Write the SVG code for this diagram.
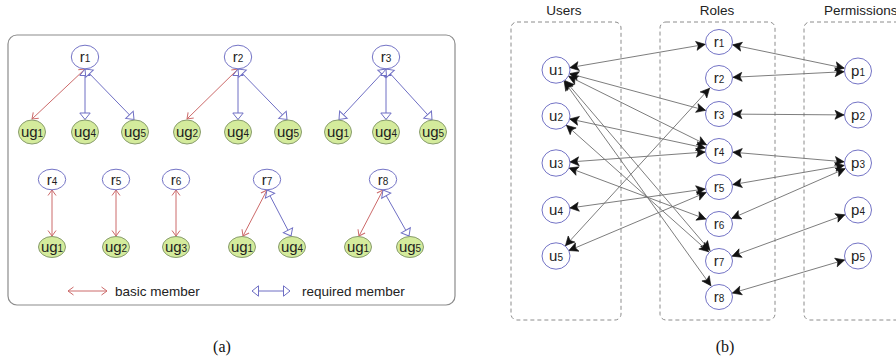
<svg xmlns="http://www.w3.org/2000/svg" width="896" height="363" viewBox="0 0 896 363">
<style>
.bg{fill:#fff}
.frame{fill:none;stroke:#8c8c8c;stroke-width:1.2}
.dbox{fill:none;stroke:#8c8c8c;stroke-width:1;stroke-dasharray:4 3}
.rn{fill:#fff;stroke:#7474c6;stroke-width:1}
.ug{fill:#d4eb9c;stroke:#889c6c;stroke-width:1}
.nt{font-family:"Liberation Sans",Arial,sans-serif;font-size:15px;fill:#1e1e1e;text-anchor:middle}
.sub{font-size:10px}
.red{stroke:#cc6a6a;stroke-width:1;fill:none;marker-start:url(#vArr);marker-end:url(#vArr)}
.blue{stroke:#6f6fc4;stroke-width:1;fill:none;marker-start:url(#tArr);marker-end:url(#tArr)}
.gl{stroke:#6e6e6e;stroke-width:0.9;fill:none;marker-start:url(#bArr);marker-end:url(#bArr)}
.hd{font-family:"Liberation Sans",Arial,sans-serif;font-size:13.5px;fill:#222}
.cap{font-family:"Liberation Serif","Times New Roman",serif;font-size:16px;fill:#111;text-anchor:middle}
</style>
<defs>
<marker id="vArr" viewBox="-8 -6 10 12" markerWidth="10" markerHeight="12" refX="0" refY="0" orient="auto-start-reverse" markerUnits="userSpaceOnUse" overflow="visible"><path d="M-5.5,-4 L0,0 L-5.5,4" fill="none" stroke="#cc6a6a" stroke-width="1"/></marker>
<marker id="tArr" viewBox="-8 -6 10 12" markerWidth="10" markerHeight="12" refX="0" refY="0" orient="auto-start-reverse" markerUnits="userSpaceOnUse" overflow="visible"><path d="M-6.5,-5.2 L0,0 L-6.5,5.2 z" fill="#fff" stroke="#6f6fc4" stroke-width="1"/></marker>
<marker id="bArr" viewBox="-26 -6 28 12" markerWidth="28" markerHeight="12" refX="0" refY="0" orient="auto-start-reverse" markerUnits="userSpaceOnUse" overflow="visible"><path d="M-14,0 L-23,-4.5 L-21,0 L-23,4.5 z" fill="#111" stroke="#111" stroke-width="0.6" stroke-linejoin="round"/></marker>
</defs>
<rect class="bg" x="0" y="0" width="896" height="363"/>

<!-- Panel (a) -->
<rect class="frame" x="8" y="35" width="447" height="270" rx="9"/>

<g id="connectors-a">
<line class="red" x1="85" y1="69" x2="32" y2="119"/>
<line class="blue" x1="85" y1="69" x2="85" y2="119.5"/>
<line class="blue" x1="85" y1="69" x2="134" y2="119.5"/>
<line class="red" x1="238" y1="69" x2="187" y2="119"/>
<line class="blue" x1="238" y1="69" x2="238" y2="119.5"/>
<line class="blue" x1="238" y1="69" x2="287" y2="119.5"/>
<line class="blue" x1="386" y1="69" x2="339" y2="119.5"/>
<line class="blue" x1="386" y1="69" x2="386" y2="119.5"/>
<line class="blue" x1="386" y1="69" x2="432" y2="119.5"/>
<line class="red" x1="52" y1="190" x2="52" y2="236"/>
<line class="red" x1="116" y1="190" x2="116" y2="236"/>
<line class="red" x1="176" y1="190" x2="176" y2="236"/>
<line class="red" x1="267" y1="190" x2="243" y2="236"/>
<line class="blue" x1="267" y1="190" x2="291" y2="236"/>
<line class="red" x1="383" y1="190" x2="359" y2="236"/>
<line class="blue" x1="383" y1="190" x2="409" y2="236"/>
</g>

<g id="a-r1"><ellipse class="rn" cx="85" cy="57" rx="13.7" ry="11.8"/><text class="nt" x="85" y="62">r<tspan class="sub">1</tspan></text></g>
<g id="a-r2"><ellipse class="rn" cx="238" cy="57" rx="13.7" ry="11.8"/><text class="nt" x="238" y="62">r<tspan class="sub">2</tspan></text></g>
<g id="a-r3"><ellipse class="rn" cx="386" cy="57" rx="13.7" ry="11.8"/><text class="nt" x="386" y="62">r<tspan class="sub">3</tspan></text></g>
<g id="a-r1-ug1"><ellipse class="ug" cx="32" cy="132" rx="13.5" ry="12"/><text class="nt" x="32" y="136.5">ug<tspan class="sub">1</tspan></text></g>
<g id="a-r1-ug4"><ellipse class="ug" cx="85" cy="132" rx="13.5" ry="12"/><text class="nt" x="85" y="136.5">ug<tspan class="sub">4</tspan></text></g>
<g id="a-r1-ug5"><ellipse class="ug" cx="135" cy="132" rx="13.5" ry="12"/><text class="nt" x="135" y="136.5">ug<tspan class="sub">5</tspan></text></g>
<g id="a-r2-ug2"><ellipse class="ug" cx="187" cy="132" rx="13.5" ry="12"/><text class="nt" x="187" y="136.5">ug<tspan class="sub">2</tspan></text></g>
<g id="a-r2-ug4"><ellipse class="ug" cx="238" cy="132" rx="13.5" ry="12"/><text class="nt" x="238" y="136.5">ug<tspan class="sub">4</tspan></text></g>
<g id="a-r2-ug5"><ellipse class="ug" cx="288" cy="132" rx="13.5" ry="12"/><text class="nt" x="288" y="136.5">ug<tspan class="sub">5</tspan></text></g>
<g id="a-r3-ug1"><ellipse class="ug" cx="338" cy="132" rx="13.5" ry="12"/><text class="nt" x="338" y="136.5">ug<tspan class="sub">1</tspan></text></g>
<g id="a-r3-ug4"><ellipse class="ug" cx="386" cy="132" rx="13.5" ry="12"/><text class="nt" x="386" y="136.5">ug<tspan class="sub">4</tspan></text></g>
<g id="a-r3-ug5"><ellipse class="ug" cx="433" cy="132" rx="13.5" ry="12"/><text class="nt" x="433" y="136.5">ug<tspan class="sub">5</tspan></text></g>

<g id="a-r4"><ellipse class="rn" cx="52" cy="179.5" rx="13.7" ry="10.3"/><text class="nt" x="52" y="184.5">r<tspan class="sub">4</tspan></text></g>
<g id="a-r5"><ellipse class="rn" cx="116" cy="179.5" rx="13.7" ry="10.3"/><text class="nt" x="116" y="184.5">r<tspan class="sub">5</tspan></text></g>
<g id="a-r6"><ellipse class="rn" cx="176" cy="179.5" rx="13.7" ry="10.3"/><text class="nt" x="176" y="184.5">r<tspan class="sub">6</tspan></text></g>
<g id="a-r7"><ellipse class="rn" cx="267" cy="179.5" rx="13.7" ry="10.3"/><text class="nt" x="267" y="184.5">r<tspan class="sub">7</tspan></text></g>
<g id="a-r8"><ellipse class="rn" cx="383" cy="179.5" rx="13.7" ry="10.3"/><text class="nt" x="383" y="184.5">r<tspan class="sub">8</tspan></text></g>
<g id="a-r4-ug1"><ellipse class="ug" cx="52" cy="247" rx="13.5" ry="10.5"/><text class="nt" x="52" y="251.5">ug<tspan class="sub">1</tspan></text></g>
<g id="a-r5-ug2"><ellipse class="ug" cx="116" cy="247" rx="13.5" ry="10.5"/><text class="nt" x="116" y="251.5">ug<tspan class="sub">2</tspan></text></g>
<g id="a-r6-ug3"><ellipse class="ug" cx="176" cy="247" rx="13.5" ry="10.5"/><text class="nt" x="176" y="251.5">ug<tspan class="sub">3</tspan></text></g>
<g id="a-r7-ug1"><ellipse class="ug" cx="242" cy="247" rx="13.5" ry="10.5"/><text class="nt" x="242" y="251.5">ug<tspan class="sub">1</tspan></text></g>
<g id="a-r7-ug4"><ellipse class="ug" cx="292" cy="247" rx="13.5" ry="10.5"/><text class="nt" x="292" y="251.5">ug<tspan class="sub">4</tspan></text></g>
<g id="a-r8-ug1"><ellipse class="ug" cx="358" cy="247" rx="13.5" ry="10.5"/><text class="nt" x="358" y="251.5">ug<tspan class="sub">1</tspan></text></g>
<g id="a-r8-ug5"><ellipse class="ug" cx="410" cy="247" rx="13.5" ry="10.5"/><text class="nt" x="410" y="251.5">ug<tspan class="sub">5</tspan></text></g>

<g id="legend">
<line class="red" x1="68" y1="291" x2="107" y2="291"/>
<text class="hd" x="115" y="295.5">basic member</text>
<line class="blue" x1="252" y1="291" x2="290" y2="291"/>
<text class="hd" x="302" y="295.5">required member</text>
</g>
<text class="cap" x="222" y="352">(a)</text>

<!-- Panel (b) -->
<rect class="dbox" x="511" y="22" width="110" height="298" rx="6"/>
<rect class="dbox" x="660" y="22" width="115" height="298" rx="6"/>
<rect class="dbox" x="804" y="22" width="110" height="298" rx="6"/>
<text class="hd" x="564" y="15" text-anchor="middle">Users</text>
<text class="hd" x="717" y="15" text-anchor="middle">Roles</text>
<text class="hd" x="824" y="15">Permissions</text>

<g id="connectors-b">
<line class="gl" x1="556" y1="70" x2="719" y2="42"/>
<line class="gl" x1="556" y1="70" x2="719" y2="114"/>
<line class="gl" x1="556" y1="70" x2="719" y2="151"/>
<line class="gl" x1="556" y1="70" x2="719" y2="261"/>
<line class="gl" x1="556" y1="70" x2="719" y2="297"/>
<line class="gl" x1="556" y1="116" x2="719" y2="151"/>
<line class="gl" x1="556" y1="116" x2="719" y2="261"/>
<line class="gl" x1="556" y1="163" x2="719" y2="151"/>
<line class="gl" x1="556" y1="163" x2="719" y2="224"/>
<line class="gl" x1="556" y1="210" x2="719" y2="187"/>
<line class="gl" x1="556" y1="256" x2="719" y2="78"/>
<line class="gl" x1="556" y1="256" x2="719" y2="187"/>
<line class="gl" x1="719" y1="42" x2="858" y2="71"/>
<line class="gl" x1="719" y1="78" x2="858" y2="71"/>
<line class="gl" x1="719" y1="114" x2="858" y2="115"/>
<line class="gl" x1="719" y1="151" x2="858" y2="163"/>
<line class="gl" x1="719" y1="187" x2="858" y2="163"/>
<line class="gl" x1="719" y1="224" x2="858" y2="163"/>
<line class="gl" x1="719" y1="261" x2="858" y2="210"/>
<line class="gl" x1="719" y1="297" x2="858" y2="256"/>
</g>

<g id="u1"><ellipse class="rn" cx="556" cy="70" rx="14" ry="13.2"/><text class="nt" x="556" y="75">u<tspan class="sub">1</tspan></text></g>
<g id="u2"><ellipse class="rn" cx="556" cy="116" rx="14" ry="13.2"/><text class="nt" x="556" y="121">u<tspan class="sub">2</tspan></text></g>
<g id="u3"><ellipse class="rn" cx="556" cy="163" rx="14" ry="13.2"/><text class="nt" x="556" y="168">u<tspan class="sub">3</tspan></text></g>
<g id="u4"><ellipse class="rn" cx="556" cy="210" rx="14" ry="13.2"/><text class="nt" x="556" y="215">u<tspan class="sub">4</tspan></text></g>
<g id="u5"><ellipse class="rn" cx="556" cy="256" rx="14" ry="13.2"/><text class="nt" x="556" y="261">u<tspan class="sub">5</tspan></text></g>

<g id="r1"><ellipse class="rn" cx="719" cy="42" rx="13.5" ry="12.5"/><text class="nt" x="719" y="47">r<tspan class="sub">1</tspan></text></g>
<g id="r2"><ellipse class="rn" cx="719" cy="78" rx="13.5" ry="12.5"/><text class="nt" x="719" y="83">r<tspan class="sub">2</tspan></text></g>
<g id="r3"><ellipse class="rn" cx="719" cy="114" rx="13.5" ry="12.5"/><text class="nt" x="719" y="119">r<tspan class="sub">3</tspan></text></g>
<g id="r4"><ellipse class="rn" cx="719" cy="151" rx="13.5" ry="12.5"/><text class="nt" x="719" y="156">r<tspan class="sub">4</tspan></text></g>
<g id="r5"><ellipse class="rn" cx="719" cy="187" rx="13.5" ry="12.5"/><text class="nt" x="719" y="192">r<tspan class="sub">5</tspan></text></g>
<g id="r6"><ellipse class="rn" cx="719" cy="224" rx="13.5" ry="12.5"/><text class="nt" x="719" y="229">r<tspan class="sub">6</tspan></text></g>
<g id="r7"><ellipse class="rn" cx="719" cy="261" rx="13.5" ry="12.5"/><text class="nt" x="719" y="266">r<tspan class="sub">7</tspan></text></g>
<g id="r8"><ellipse class="rn" cx="719" cy="297" rx="13.5" ry="12.5"/><text class="nt" x="719" y="302">r<tspan class="sub">8</tspan></text></g>

<g id="p1"><ellipse class="rn" cx="858" cy="71" rx="13.5" ry="13"/><text class="nt" x="858" y="76">p<tspan class="sub">1</tspan></text></g>
<g id="p2"><ellipse class="rn" cx="858" cy="115" rx="13.5" ry="13"/><text class="nt" x="858" y="120">p<tspan class="sub">2</tspan></text></g>
<g id="p3"><ellipse class="rn" cx="858" cy="163" rx="13.5" ry="13"/><text class="nt" x="858" y="168">p<tspan class="sub">3</tspan></text></g>
<g id="p4"><ellipse class="rn" cx="858" cy="210" rx="13.5" ry="13"/><text class="nt" x="858" y="215">p<tspan class="sub">4</tspan></text></g>
<g id="p5"><ellipse class="rn" cx="858" cy="256" rx="13.5" ry="13"/><text class="nt" x="858" y="261">p<tspan class="sub">5</tspan></text></g>

<text class="cap" x="725" y="352">(b)</text>
</svg>
